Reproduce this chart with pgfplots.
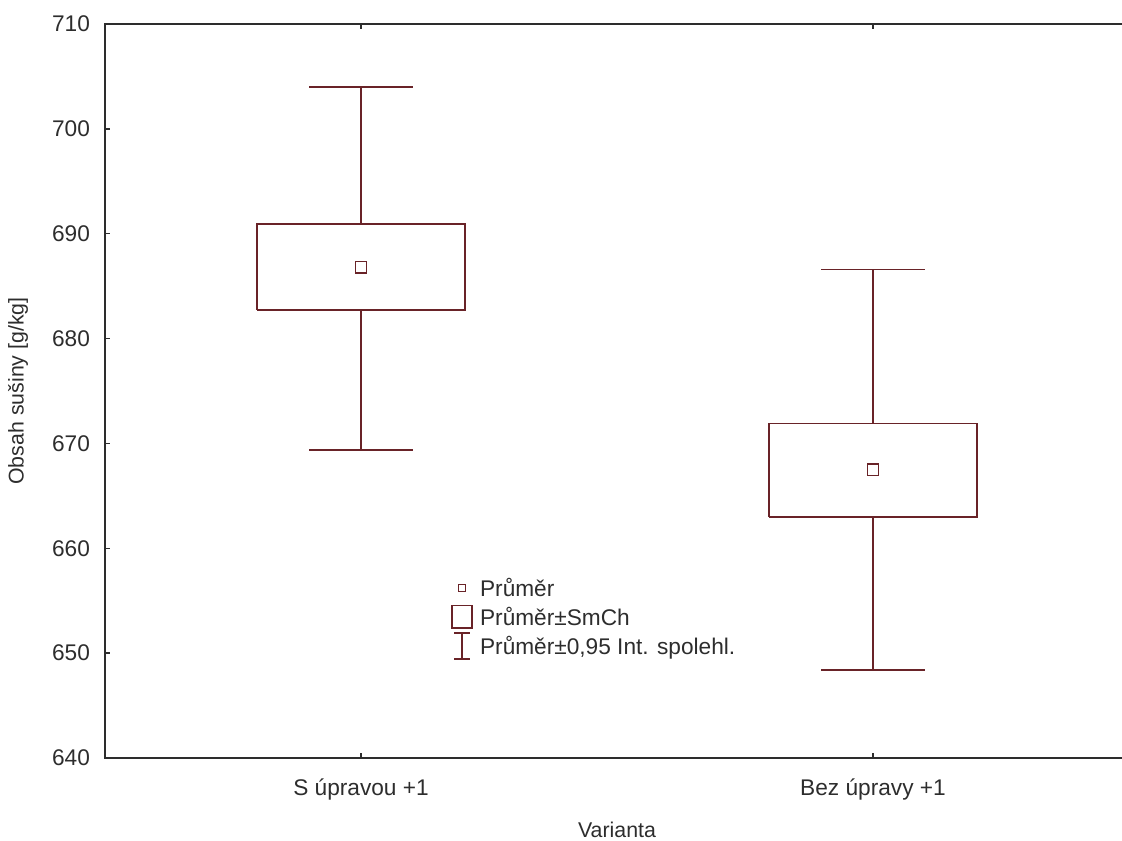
\documentclass[border=0pt]{standalone}
\usepackage{fontspec}
\setmainfont{Liberation Sans}
\usepackage{pgfplots}
\pgfplotsset{compat=1.18}
\definecolor{bx}{RGB}{105,35,40}
\definecolor{ax}{RGB}{45,45,45}
\begin{document}
\begin{tikzpicture}
\begin{axis}[
  at={(78.75pt,61.5pt)}, anchor=south west,
  scale only axis, width=768pt, height=550.5pt,
  xmin=-0.5, xmax=1.5, ymin=640, ymax=710,
  axis line style={ax, line width=1.2pt},
  tick align=inside, major tick length=4pt,
  tick style={ax, line width=1pt},
  ytick={640,650,...,710},
  xtick={0,1}, xticklabels={S úpravou +1, Bez úpravy +1},
  ytick pos=left,
  /pgf/number format/assume math mode=true,
  /pgf/number format/1000 sep={},
  ticklabel style={font=\fontsize{17}{20}\selectfont, text=ax},
  yticklabel style={xshift=-7.75pt},
  xticklabel style={yshift=-12pt},
  ylabel={Obsah sušiny [g/kg]},
  ylabel style={at={(axis description cs:-0.085,0.5)}, anchor=center, font=\fontsize{16}{19}\selectfont, text=ax},
  xlabel={Varianta},
  xlabel style={at={(axis description cs:0.5,-0.098)}, anchor=center, font=\fontsize{16}{19}\selectfont, text=ax},
  legend style={at={(axis description cs:0.334,0.2534)}, anchor=north west, draw=none, fill=none,
    font=\fontsize{17}{20}\selectfont, text=ax, row sep=1.5pt, nodes={inner sep=1pt}},
  legend cell align=left,
]
\addlegendimage{legend image code/.code={\path[draw=none,fill=none] (-1.5pt,-10pt) rectangle (18.5pt,10pt);
  \draw[bx,line width=1pt] (3.4pt,-2.6pt) rectangle (8.6pt,2.6pt);}}
\addlegendentry{Průměr}
\addlegendimage{legend image code/.code={\path[draw=none,fill=none] (-1.5pt,-10pt) rectangle (18.5pt,10pt);
  \draw[bx,line width=1.2pt] (-1.5pt,-8.5pt) rectangle (13.5pt,8.5pt);}}
\addlegendentry{Průměr±SmCh}
\addlegendimage{legend image code/.code={\path[draw=none,fill=none] (-1.5pt,-10pt) rectangle (18.5pt,10pt);
  \draw[bx,line width=1.2pt] (0pt,-9.75pt) -- (12pt,-9.75pt) (6pt,-9.75pt) -- (6pt,9.75pt) (0pt,9.75pt) -- (12pt,9.75pt);}}
\addlegendentry{Průměr±0,95 Int. spolehl.}

% S úpravou +1 (x = 0)
\addplot[bx, line width=1.2pt, forget plot] coordinates {(-0.203,682.7) (0.203,682.7) (0.203,690.9) (-0.203,690.9) (-0.203,682.7)};
\addplot[bx, line width=1.2pt, forget plot] coordinates {(0,690.9) (0,704.0)};
\addplot[bx, line width=1.2pt, forget plot] coordinates {(-0.1015,704.0) (0.1015,704.0)};
\addplot[bx, line width=1.2pt, forget plot] coordinates {(0,682.7) (0,669.4)};
\addplot[bx, line width=1.2pt, forget plot] coordinates {(-0.1015,669.4) (0.1015,669.4)};
% Bez úpravy +1 (x = 1)
\addplot[bx, line width=1.2pt, forget plot] coordinates {(0.797,663.0) (1.203,663.0) (1.203,671.9) (0.797,671.9) (0.797,663.0)};
\addplot[bx, line width=1.2pt, forget plot] coordinates {(1,671.9) (1,686.6)};
\addplot[bx, line width=1.2pt, forget plot] coordinates {(0.8985,686.6) (1.1015,686.6)};
\addplot[bx, line width=1.2pt, forget plot] coordinates {(1,663.0) (1,648.4)};
\addplot[bx, line width=1.2pt, forget plot] coordinates {(0.8985,648.4) (1.1015,648.4)};
% means
\addplot[forget plot, only marks, mark=square, mark size=4.3pt, mark options={draw=bx, fill=white, line width=1pt}]
  coordinates {(0,686.8) (1,667.5)};
\end{axis}
\pgfresetboundingbox
\useasboundingbox (0,0) rectangle (841.5pt,630pt);
\end{tikzpicture}
\end{document}
